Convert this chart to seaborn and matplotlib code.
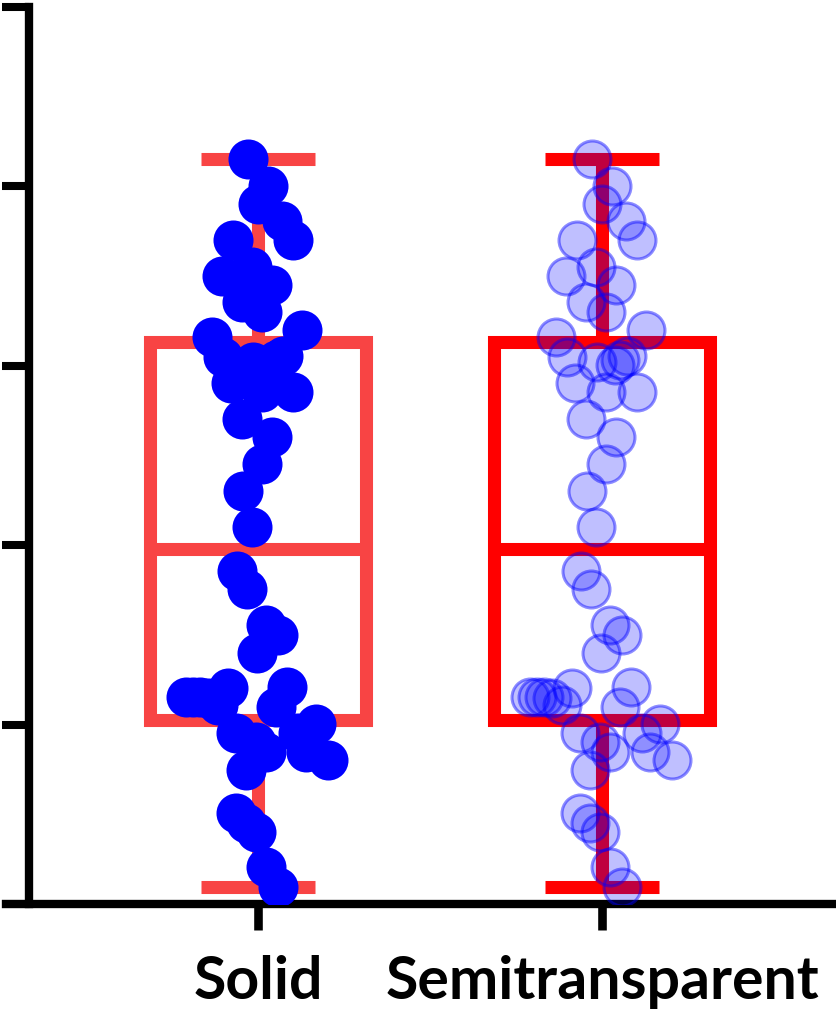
import numpy as np
import pandas as pd
import matplotlib
matplotlib.use("Agg")
import matplotlib.pyplot as plt
import seaborn as sns

groups = ["Solid", "Semitransparent"]

# the same measurements are shown in both columns
values = [4.155, 4.002, 3.902, 3.807, 3.701, 3.704, 3.552, 3.501, 3.453, 3.353,
          3.302, 3.202, 3.158, 3.051, 3.021, 3.004, 3.057, 3.032, 2.902, 2.856,
          2.854, 2.705, 2.601, 2.453, 2.301, 2.100,
          1.855, 1.756, 1.555, 1.499, 1.401, 1.156, 1.156, 1.156, 1.151, 1.204,
          1.109, 1.207, 1.100, 0.952, 0.905, 0.849, 0.952, 1.003, 0.849, 0.803,
          0.747, 0.506, 0.450, 0.403, 0.208, 0.096]

# horizontal scatter of each dot (fraction of category spacing)
offsets = [-0.029, 0.028, -0.001, 0.071, 0.101, -0.074, -0.017, -0.104, 0.042, -0.047,
           0.013, 0.128, -0.133, -0.103, -0.015, 0.039, 0.072, 0.052, -0.078, 0.013,
           0.101, -0.047, 0.041, 0.013, -0.044, -0.017,
           -0.060, -0.033, 0.023, 0.057, -0.004, -0.208, -0.188, -0.169, -0.145, -0.088,
           -0.117, 0.085, 0.052, -0.064, -0.006, 0.023, 0.115, 0.169, 0.140, 0.203,
           -0.035, -0.064, -0.035, -0.006, 0.023, 0.057]

box_colors = ["#F84444", "#FF0000"]

sns.set_style("white")
plt.rcParams["font.family"] = ["Lato", "DejaVu Sans"]

rows = []
for i, g in enumerate(groups):
    for v, o in zip(values, offsets):
        rows.append({"group": g, "pos": i + o, "value": v})
df = pd.DataFrame(rows)

fig = plt.figure(figsize=(8.36, 10.11), dpi=100)
ax = fig.add_axes([6 / 836, 107 / 1011, 830 / 836, 897 / 1011])

# box stats with (n+1)p percentiles, whiskers min..max
for i, (g, c) in enumerate(zip(groups, box_colors)):
    v = df.loc[df["group"] == g, "value"].to_numpy()
    q1, med, q3 = np.percentile(v, [25, 50, 75], method="weibull")
    st = {"med": med, "q1": q1, "q3": q3, "whislo": v.min(), "whishi": v.max(),
          "fliers": [], "label": g}
    ax.bxp([st], positions=[i], widths=0.628, capwidths=[0.33], showfliers=False,
           patch_artist=True, manage_ticks=False,
           boxprops=dict(facecolor="none", edgecolor=c, linewidth=9.4, joinstyle="miter", zorder=1),
           whiskerprops=dict(color=c, linewidth=9.4, solid_capstyle="butt", zorder=1),
           capprops=dict(color=c, linewidth=9.4, solid_capstyle="butt", zorder=1),
           medianprops=dict(color=c, linewidth=9.4, solid_capstyle="butt", zorder=1))

sns.scatterplot(data=df[df["group"] == "Solid"], x="pos", y="value", ax=ax,
                s=708, color="#0000FF", edgecolor="#0000FF", linewidth=2.2,
                zorder=3, legend=False)
sns.scatterplot(data=df[df["group"] == "Semitransparent"], x="pos", y="value", ax=ax,
                s=708, color=(0, 0, 1, 0.25), edgecolor=(0, 0, 1, 0.45), linewidth=2.2,
                zorder=3, legend=False)

ax.set_xlim(-0.7326, 1.6802)
ax.set_ylim(0, 5)
for side in ["top", "right"]:
    ax.spines[side].set_visible(False)
ax.spines["left"].set_position(("data", -0.666))
ax.spines["left"].set_linewidth(6)
ax.spines["bottom"].set_linewidth(6)
for sp in ax.spines.values():
    sp.set_color("black")

ax.set_yticks(range(6))
ax.set_yticklabels([])
ax.tick_params(axis="y", left=True, direction="out", length=19.4, width=5.8, color="black")
ax.set_xticks([0, 1])
ax.set_xticklabels(groups, fontsize=42.5, fontweight="bold", color="black")
ax.tick_params(axis="x", bottom=True, direction="out", length=18.7, width=6.2,
               color="black", pad=18)
ax.set_xlabel("")
ax.set_ylabel("")

fig.savefig("out.png", dpi=100)
